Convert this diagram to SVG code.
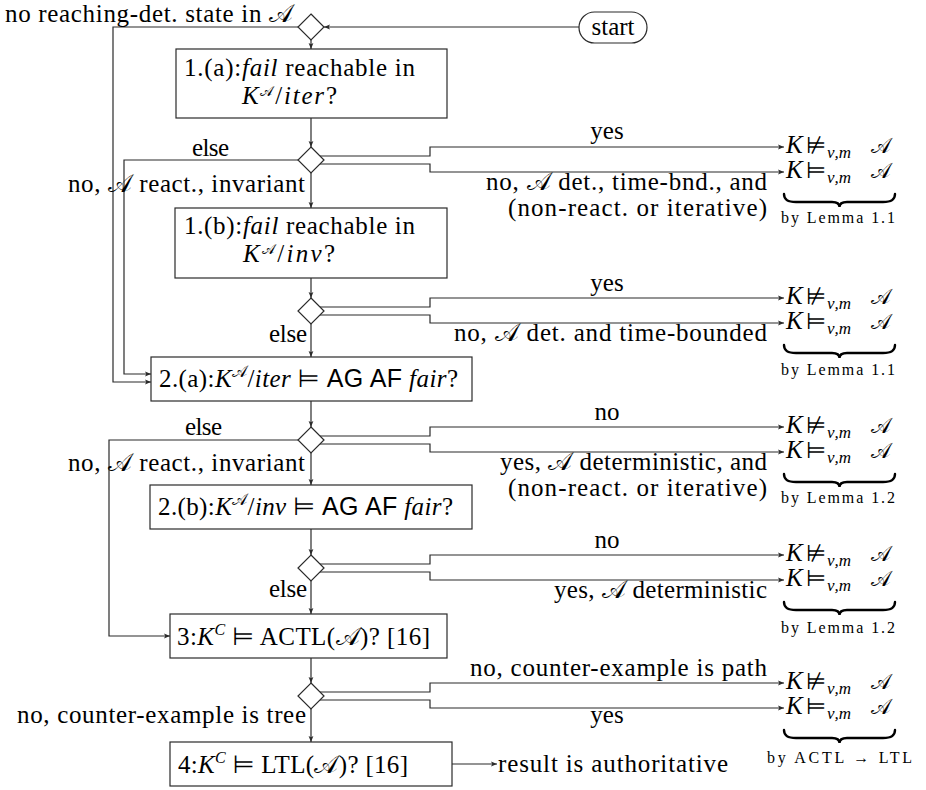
<svg xmlns="http://www.w3.org/2000/svg" width="926" height="790" viewBox="0 0 926 790">
<style>
.t{font-family:"Liberation Serif","Times New Roman",serif;font-size:25px;fill:#000}
.i{font-style:italic}
.s{font-family:"Liberation Sans",Arial,sans-serif;font-style:normal}
.m{font-family:"DejaVu Sans",sans-serif;font-style:normal}
.rel{font-family:"DejaVu Sans",sans-serif;font-style:normal;font-size:23px}
.cal{font-family:"DejaVu Serif","DejaVu Sans",serif;font-style:normal}
.calr{font-family:"DejaVu Serif","DejaVu Sans",serif;font-style:normal;font-size:21px}
.sub{font-size:17px}
.sup{font-size:16px}
.sup2{font-size:14px}
.sm{font-family:"Liberation Serif",serif;font-size:16px;fill:#000}
.box{fill:#fff;stroke:#2a2a2a;stroke-width:1.2}
.ln{fill:none;stroke:#2a2a2a;stroke-width:1.2}
.br{fill:none;stroke:#000;stroke-width:2.4;stroke-linecap:round}
</style>
<defs>
<marker id="arr" markerUnits="userSpaceOnUse" markerWidth="7" markerHeight="6" refX="6" refY="3" orient="auto">
<path d="M0,0.6 L6,3 L0,5.4 L1.3,3 Z" fill="#2a2a2a"/>
</marker>
</defs>
<rect width="926" height="790" fill="#fff"/>

<g id="connectors">
<path class="ln" marker-end="url(#arr)" d="M579,27 L324,27"/>
<path class="ln" marker-end="url(#arr)" d="M311,40 L311,49"/>
<path class="ln" marker-end="url(#arr)" d="M311,118 L311,147"/>
<path class="ln" marker-end="url(#arr)" d="M311,173 L311,208"/>
<path class="ln" marker-end="url(#arr)" d="M311,278 L311,298"/>
<path class="ln" marker-end="url(#arr)" d="M311,324 L311,357"/>
<path class="ln" marker-end="url(#arr)" d="M311,401 L311,427"/>
<path class="ln" marker-end="url(#arr)" d="M311,453 L311,485"/>
<path class="ln" marker-end="url(#arr)" d="M311,529 L311,555"/>
<path class="ln" marker-end="url(#arr)" d="M311,581 L311,614"/>
<path class="ln" marker-end="url(#arr)" d="M311,658 L311,683"/>
<path class="ln" marker-end="url(#arr)" d="M311,709 L311,742"/>
<path class="ln" marker-end="url(#arr)" d="M452,764 L497,764"/>
<path class="ln" marker-end="url(#arr)" d="M298,27 L113,27 L113,382 L151,382"/>
<path class="ln" marker-end="url(#arr)" d="M298,160 L124,160 L124,374 L151,374"/>
<path class="ln" marker-end="url(#arr)" d="M298,440 L109,440 L109,636 L170,636"/>
<path class="ln" marker-end="url(#arr)" d="M320,156 L430,156 L430,147 L784,147"/>
<path class="ln" marker-end="url(#arr)" d="M320,164 L430,164 L430,172 L784,172"/>
<path class="ln" marker-end="url(#arr)" d="M320,307 L430,307 L430,298 L784,298"/>
<path class="ln" marker-end="url(#arr)" d="M320,315 L430,315 L430,323 L784,323"/>
<path class="ln" marker-end="url(#arr)" d="M320,436 L430,436 L430,427 L784,427"/>
<path class="ln" marker-end="url(#arr)" d="M320,444 L430,444 L430,452 L784,452"/>
<path class="ln" marker-end="url(#arr)" d="M320,564 L430,564 L430,555 L784,555"/>
<path class="ln" marker-end="url(#arr)" d="M320,572 L430,572 L430,580 L784,580"/>
<path class="ln" marker-end="url(#arr)" d="M320,692 L430,692 L430,683 L784,683"/>
<path class="ln" marker-end="url(#arr)" d="M320,700 L430,700 L430,708 L784,708"/>
</g>

<g id="edge-labels">
<text class="t" x="5" y="22" font-size="24" textLength="288">no reaching-det. state in <tspan class="cal">𝒜</tspan></text>
<text class="t" x="192" y="156" textLength="37">else</text>
<text class="t" x="68" y="192" textLength="237">no, <tspan class="cal">𝒜</tspan> react., invariant</text>
<text class="t" x="269" y="342" textLength="38">else</text>
<text class="t" x="185" y="435" textLength="37">else</text>
<text class="t" x="68" y="471" textLength="237">no, <tspan class="cal">𝒜</tspan> react., invariant</text>
<text class="t" x="269" y="597" textLength="38">else</text>
<text class="t" x="17" y="723" textLength="289">no, counter-example is tree</text>

<text class="t" x="607" y="139" text-anchor="middle">yes</text>
<text class="t" x="486" y="190" textLength="281">no, <tspan class="cal">𝒜</tspan> det., time-bnd., and</text>
<text class="t" x="508" y="216" textLength="259">(non-react. or iterative)</text>
<text class="t" x="607" y="291" text-anchor="middle">yes</text>
<text class="t" x="454" y="341" textLength="313">no, <tspan class="cal">𝒜</tspan> det. and time-bounded</text>
<text class="t" x="607" y="420" text-anchor="middle">no</text>
<text class="t" x="500" y="470" textLength="267">yes, <tspan class="cal">𝒜</tspan> deterministic, and</text>
<text class="t" x="508" y="496" textLength="259">(non-react. or iterative)</text>
<text class="t" x="607" y="548" text-anchor="middle">no</text>
<text class="t" x="554" y="598" textLength="213">yes, <tspan class="cal">𝒜</tspan> deterministic</text>
<text class="t" x="470" y="676" textLength="297">no, counter-example is path</text>
<text class="t" x="607" y="723" text-anchor="middle">yes</text>
</g>

<g id="start">
<rect class="box" x="579" y="12" width="68" height="31" rx="15.5"/>
<text class="t" x="613" y="35" text-anchor="middle">start</text>
</g>

<g id="d0"><polygon class="box" points="311,14 324,27 311,40 298,27"/></g>
<g id="d1"><polygon class="box" points="311,147 324,160 311,173 298,160"/></g>
<g id="d2"><polygon class="box" points="311,298 324,311 311,324 298,311"/></g>
<g id="d3"><polygon class="box" points="311,427 324,440 311,453 298,440"/></g>
<g id="d4"><polygon class="box" points="311,555 324,568 311,581 298,568"/></g>
<g id="d5"><polygon class="box" points="311,683 324,696 311,709 298,696"/></g>

<g id="n1a">
<rect class="box" x="176" y="49" width="271" height="69"/>
<text class="t" x="184" y="76" textLength="231">1.(a):<tspan class="i">fail</tspan> reachable in</text>
<text class="t" x="242" y="104" textLength="95"><tspan class="i">K</tspan><tspan class="cal sup2" dy="-8">𝒜</tspan><tspan dy="8">/</tspan><tspan class="i">iter</tspan>?</text>
</g>

<g id="n1b">
<rect class="box" x="175" y="208" width="272" height="70"/>
<text class="t" x="184" y="234" textLength="231">1.(b):<tspan class="i">fail</tspan> reachable in</text>
<text class="t" x="243" y="262" textLength="92"><tspan class="i">K</tspan><tspan class="cal sup2" dy="-8">𝒜</tspan><tspan dy="8">/</tspan><tspan class="i">inv</tspan>?</text>
</g>

<g id="n2a">
<rect class="box" x="151" y="357" width="321" height="44"/>
<text class="t" x="159" y="387" textLength="299">2.(a):<tspan class="i">K</tspan><tspan class="cal sup" dy="-10">𝒜</tspan><tspan dy="10">/</tspan><tspan class="i">iter</tspan> <tspan class="m">⊨</tspan> <tspan class="s">AG AF</tspan> <tspan class="i">fair</tspan>?</text>
</g>

<g id="n2b">
<rect class="box" x="150" y="485" width="322" height="44"/>
<text class="t" x="158" y="515" textLength="295">2.(b):<tspan class="i">K</tspan><tspan class="cal sup" dy="-10">𝒜</tspan><tspan dy="10">/</tspan><tspan class="i">inv</tspan> <tspan class="m">⊨</tspan> <tspan class="s">AG AF</tspan> <tspan class="i">fair</tspan>?</text>
</g>

<g id="n3">
<rect class="box" x="170" y="614" width="277" height="44"/>
<text class="t" x="177" y="645" textLength="253">3:<tspan class="i">K</tspan><tspan class="i sup" dy="-10">C</tspan><tspan dy="10"> </tspan><tspan class="m">⊨</tspan> ACTL(<tspan class="cal">𝒜</tspan>)? [16]</text>
</g>

<g id="n4">
<rect class="box" x="170" y="742" width="282" height="44"/>
<text class="t" x="178" y="773" textLength="230">4:<tspan class="i">K</tspan><tspan class="i sup" dy="-10">C</tspan><tspan dy="10"> </tspan><tspan class="m">⊨</tspan> LTL(<tspan class="cal">𝒜</tspan>)? [16]</text>
</g>

<g id="result">
<text class="t" x="498" y="772" textLength="230">result is authoritative</text>
</g>

<g id="r1">
<text class="t" y="153"><tspan class="i" x="786">K</tspan><tspan class="rel" x="806">⊭</tspan><tspan class="i sub" x="827" dy="5">ν,m</tspan><tspan class="calr" x="871" dy="-5">𝒜</tspan></text>
<text class="t" y="178"><tspan class="i" x="786">K</tspan><tspan class="rel" x="806">⊨</tspan><tspan class="i sub" x="827" dy="5">ν,m</tspan><tspan class="calr" x="871" dy="-5">𝒜</tspan></text>
<path class="br" d="M784,194 C784,200 788,202 796,202 L832,202 C837,202 839.5,204 839.5,207 C839.5,204 842,202 847,202 L883,202 C891,202 895,200 895,194"/>
<text class="sm" x="781" y="223" textLength="114">by Lemma 1.1</text>
</g>

<g id="r2">
<text class="t" y="304"><tspan class="i" x="786">K</tspan><tspan class="rel" x="806">⊭</tspan><tspan class="i sub" x="827" dy="5">ν,m</tspan><tspan class="calr" x="871" dy="-5">𝒜</tspan></text>
<text class="t" y="329"><tspan class="i" x="786">K</tspan><tspan class="rel" x="806">⊨</tspan><tspan class="i sub" x="827" dy="5">ν,m</tspan><tspan class="calr" x="871" dy="-5">𝒜</tspan></text>
<path class="br" d="M784,345 C784,351 788,353 796,353 L832,353 C837,353 839.5,355 839.5,358 C839.5,355 842,353 847,353 L883,353 C891,353 895,351 895,345"/>
<text class="sm" x="781" y="375" textLength="114">by Lemma 1.1</text>
</g>

<g id="r3">
<text class="t" y="433"><tspan class="i" x="786">K</tspan><tspan class="rel" x="806">⊭</tspan><tspan class="i sub" x="827" dy="5">ν,m</tspan><tspan class="calr" x="871" dy="-5">𝒜</tspan></text>
<text class="t" y="458"><tspan class="i" x="786">K</tspan><tspan class="rel" x="806">⊨</tspan><tspan class="i sub" x="827" dy="5">ν,m</tspan><tspan class="calr" x="871" dy="-5">𝒜</tspan></text>
<path class="br" d="M784,474 C784,480 788,482 796,482 L832,482 C837,482 839.5,484 839.5,487 C839.5,484 842,482 847,482 L883,482 C891,482 895,480 895,474"/>
<text class="sm" x="781" y="503" textLength="114">by Lemma 1.2</text>
</g>

<g id="r4">
<text class="t" y="561"><tspan class="i" x="786">K</tspan><tspan class="rel" x="806">⊭</tspan><tspan class="i sub" x="827" dy="5">ν,m</tspan><tspan class="calr" x="871" dy="-5">𝒜</tspan></text>
<text class="t" y="586"><tspan class="i" x="786">K</tspan><tspan class="rel" x="806">⊨</tspan><tspan class="i sub" x="827" dy="5">ν,m</tspan><tspan class="calr" x="871" dy="-5">𝒜</tspan></text>
<path class="br" d="M784,602 C784,608 788,610 796,610 L832,610 C837,610 839.5,612 839.5,615 C839.5,612 842,610 847,610 L883,610 C891,610 895,608 895,602"/>
<text class="sm" x="781" y="633" textLength="114">by Lemma 1.2</text>
</g>

<g id="r5">
<text class="t" y="689"><tspan class="i" x="786">K</tspan><tspan class="rel" x="806">⊭</tspan><tspan class="i sub" x="827" dy="5">ν,m</tspan><tspan class="calr" x="871" dy="-5">𝒜</tspan></text>
<text class="t" y="714"><tspan class="i" x="786">K</tspan><tspan class="rel" x="806">⊨</tspan><tspan class="i sub" x="827" dy="5">ν,m</tspan><tspan class="calr" x="871" dy="-5">𝒜</tspan></text>
<path class="br" d="M784,730 C784,736 788,738 796,738 L832,738 C837,738 839.5,740 839.5,743 C839.5,740 842,738 847,738 L883,738 C891,738 895,736 895,730"/>
<text class="sm" x="767" y="763" textLength="145">by ACTL → LTL</text>
</g>
</svg>
